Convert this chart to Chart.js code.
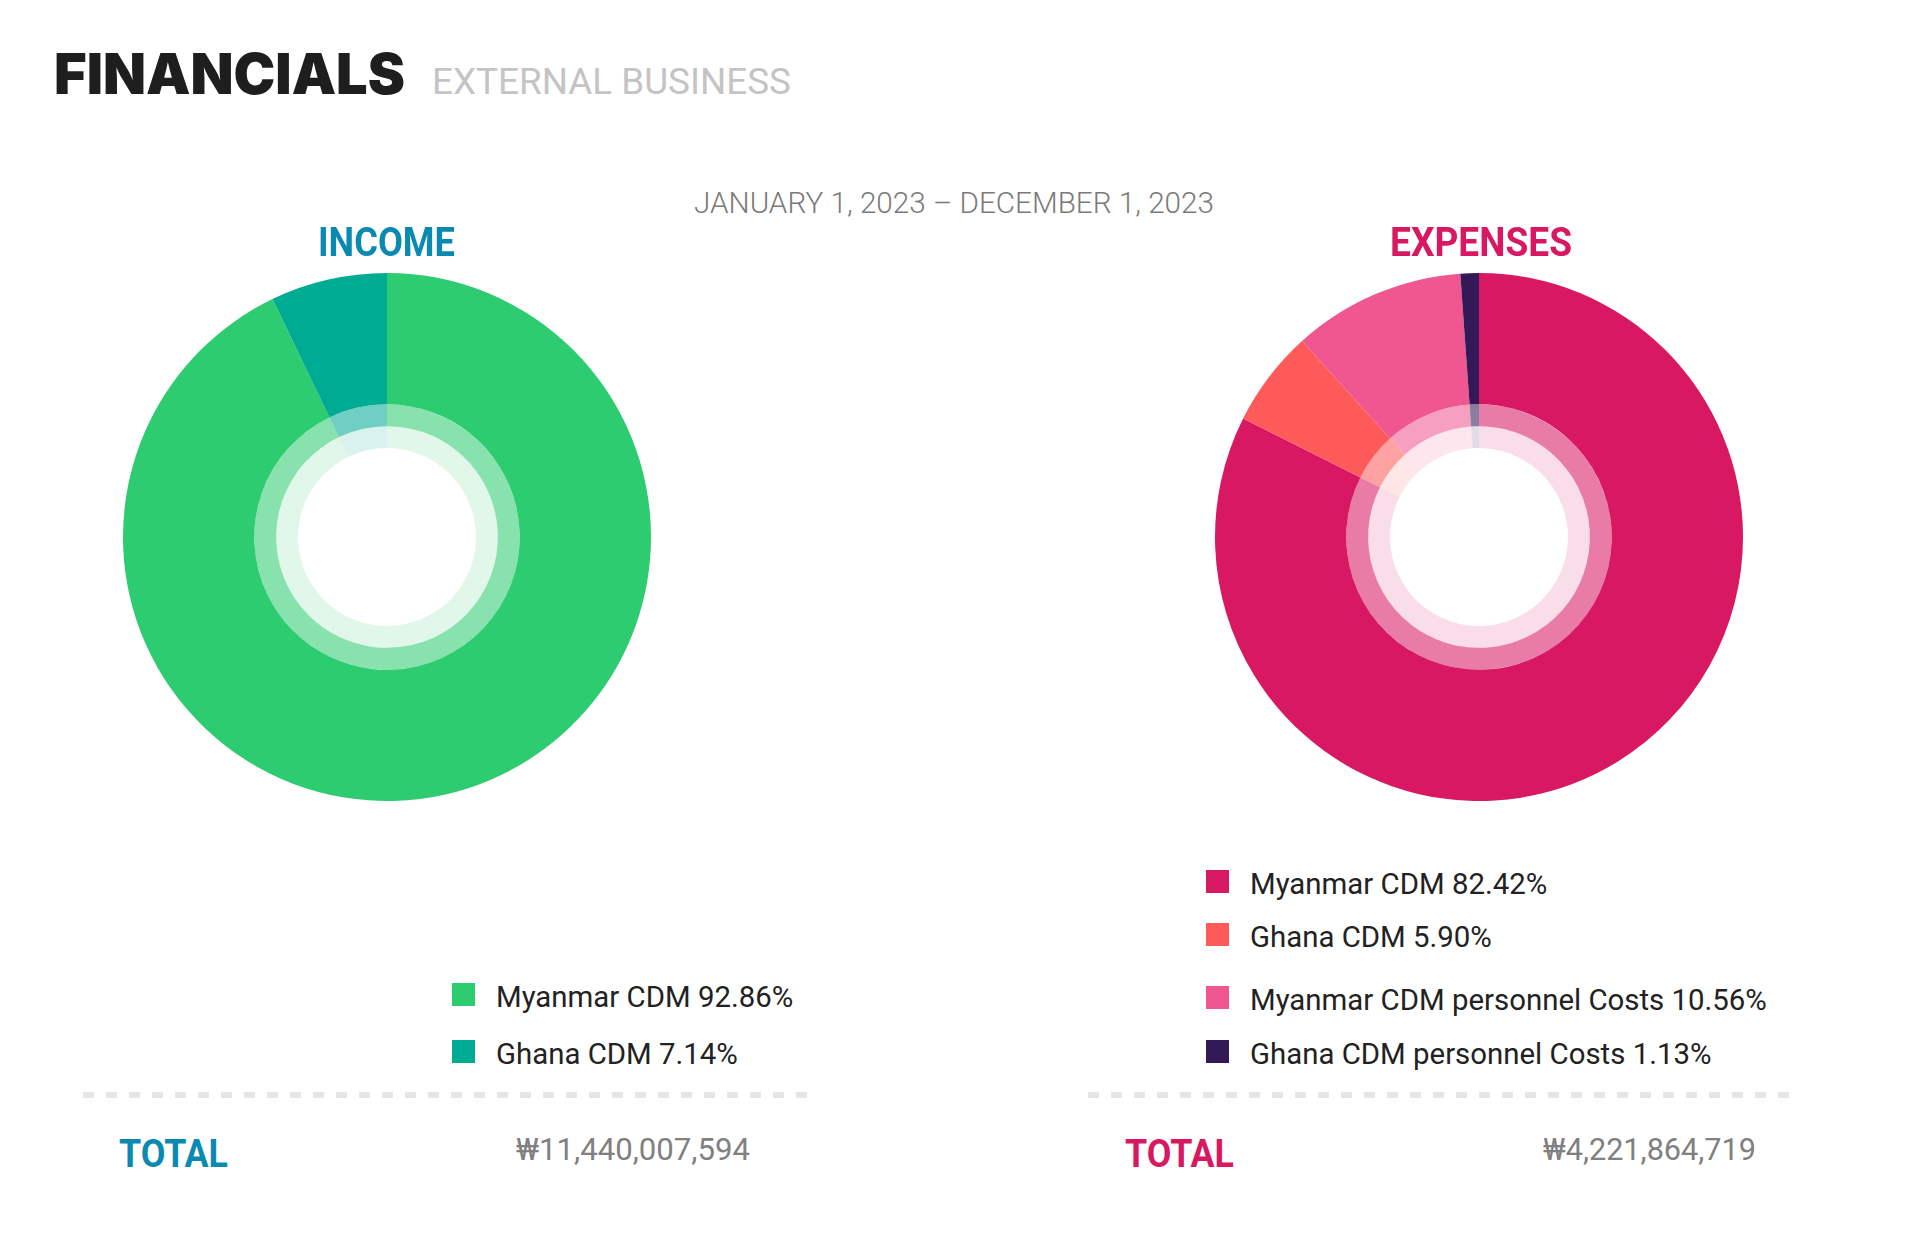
<!DOCTYPE html>
<html>
<head>
<meta charset="utf-8">
<script src="https://cdn.jsdelivr.net/npm/chart.js@4.4.1/dist/chart.umd.min.js"></script>
<style>
  html, body { margin: 0; padding: 0; background: #fff; }
  body { width: 1920px; height: 1250px; position: relative; overflow: hidden; font-family: Roboto, "Noto Sans", sans-serif; }
  .t { position: absolute; white-space: nowrap; line-height: 1; transform-origin: 0 0; }
  .box { position: absolute; width: 560px; height: 560px; }
  .dots { position: absolute; height: 6px; background: repeating-linear-gradient(to right, #e6e6e6 0 11px, transparent 11px 23px); }
  .sw { position: absolute; width: 23px; height: 23px; }
</style>
</head>
<body>
<div class="box" id="incomeBox"><canvas id="incomeChart" width="560" height="560"></canvas></div>
<div class="box" id="expenseBox"><canvas id="expenseChart" width="560" height="560"></canvas></div>
<div class="dots" style="left:83px; top:1092px; width:725px;"></div>
<div class="dots" style="left:1088px; top:1092px; width:704px;"></div>
<script>
// data
const incomeLabels = ['Myanmar CDM', 'Ghana CDM'];
const incomeShares = [92.86, 7.14];
const incomeTotal = 11440007594;

const expenseLabels = ['Myanmar CDM', 'Ghana CDM', 'Myanmar CDM personnel Costs', 'Ghana CDM personnel Costs'];
const expenseShares = [82.42, 5.90, 10.56, 1.13];
const expenseTotal = 4221864719;

const dateRange = 'JANUARY 1, 2023 \u2013 DECEMBER 1, 2023';

// styles
const incomeColors = ['#2ecc71', '#00ab94'];
const expenseColors = ['#d81862', '#ff5a5a', '#f05690', '#331a56'];
const incomeBlue = '#0b8ab1';
const expensePink = '#d81862';

const ASC = { Roboto: 0.842, Inter: 0.864 };

function addText(str, o) {
    const el = document.createElement('div');
    el.className = 't';
    el.textContent = str;
    const fam = o.family || 'Roboto';
    el.style.fontFamily = fam === 'Inter' ? 'Inter, sans-serif' : 'Roboto, sans-serif';
    el.style.fontSize = o.size + 'px';
    el.style.fontWeight = o.weight || 400;
    el.style.color = o.color;
    el.style.left = o.x + 'px';
    el.style.top = (o.base - ASC[fam] * o.size) + 'px';
    document.body.appendChild(el);
    if (o.w) {
        const natural = el.getBoundingClientRect().width;
        el.style.transform = 'scaleX(' + (o.w / natural) + ')';
    }
    return el;
}

function withAlpha(hex, a) {
    const n = parseInt(hex.slice(1), 16);
    return 'rgba(' + (n >> 16) + ',' + ((n >> 8) & 255) + ',' + (n & 255) + ',' + a + ')';
}

// outer solid ring plus two pale inner bands
function ringDatasets(values, colors) {
    return [
        { data: values, backgroundColor: colors, weight: 6 },
        { data: values, backgroundColor: colors.map(c => withAlpha(c, 0.57)), weight: 1 },
        { data: values, backgroundColor: colors.map(c => withAlpha(c, 0.15)), weight: 1 },
    ];
}

function drawDonut(canvasId, boxId, cx, cy, labels, values, colors) {
    const box = document.getElementById(boxId);
    box.style.left = (cx - 280) + 'px';
    box.style.top = (cy - 280) + 'px';
    new Chart(document.getElementById(canvasId).getContext('2d'), {
        type: 'doughnut',
        data: { labels: labels, datasets: ringDatasets(values, colors) },
        options: {
            responsive: false,
            animation: false,
            events: [],
            radius: 264,
            cutout: '33.7%',
            layout: { padding: 0 },
            elements: { arc: { borderWidth: 0 } },
            plugins: { legend: { display: false }, tooltip: { enabled: false } }
        }
    });
}

function drawLegend(labels, values, colors, swX, tops) {
    labels.forEach((label, i) => {
        const sw = document.createElement('div');
        sw.className = 'sw';
        sw.style.left = swX + 'px';
        sw.style.top = tops[i] + 'px';
        sw.style.background = colors[i];
        document.body.appendChild(sw);
        addText(label + ' ' + values[i].toFixed(2) + '%', {
            x: swX + 44, base: tops[i] + 25, size: 29.4, weight: 400, color: '#222'
        });
    });
}

function won(v) {
    return '\u20a9' + v.toLocaleString('en-US');
}

// header
addText('FINANCIALS', { family: 'Inter', x: 54, base: 94, size: 56, weight: 900, color: '#1e1e1e', w: 351 });
addText('EXTERNAL BUSINESS', { x: 432, base: 95, size: 36.5, weight: 400, color: '#c4c4c4', w: 359 });
addText(dateRange, { x: 694, base: 213, size: 30, weight: 300, color: '#7a7a7a', w: 520 });
addText('INCOME', { x: 318, base: 257, size: 41, weight: 700, color: incomeBlue, w: 137 });
addText('EXPENSES', { x: 1390, base: 257, size: 41, weight: 700, color: expensePink, w: 182 });

// charts
drawDonut('incomeChart', 'incomeBox', 387, 537, incomeLabels, incomeShares, incomeColors);
drawDonut('expenseChart', 'expenseBox', 1479, 537, expenseLabels, expenseShares, expenseColors);

// legends
drawLegend(incomeLabels, incomeShares, incomeColors, 452, [983, 1040]);
drawLegend(expenseLabels, expenseShares, expenseColors, 1206, [870, 923, 986, 1040]);

// totals
addText('TOTAL', { x: 119, base: 1168, size: 39, weight: 700, color: incomeBlue, w: 109 });
addText(won(incomeTotal), { x: 516, base: 1160, size: 32, weight: 400, color: '#808080', w: 234 });
addText('TOTAL', { x: 1125, base: 1168, size: 39, weight: 700, color: expensePink, w: 109 });
addText(won(expenseTotal), { x: 1543, base: 1160, size: 32, weight: 400, color: '#808080', w: 213 });
</script>
</body>
</html>
